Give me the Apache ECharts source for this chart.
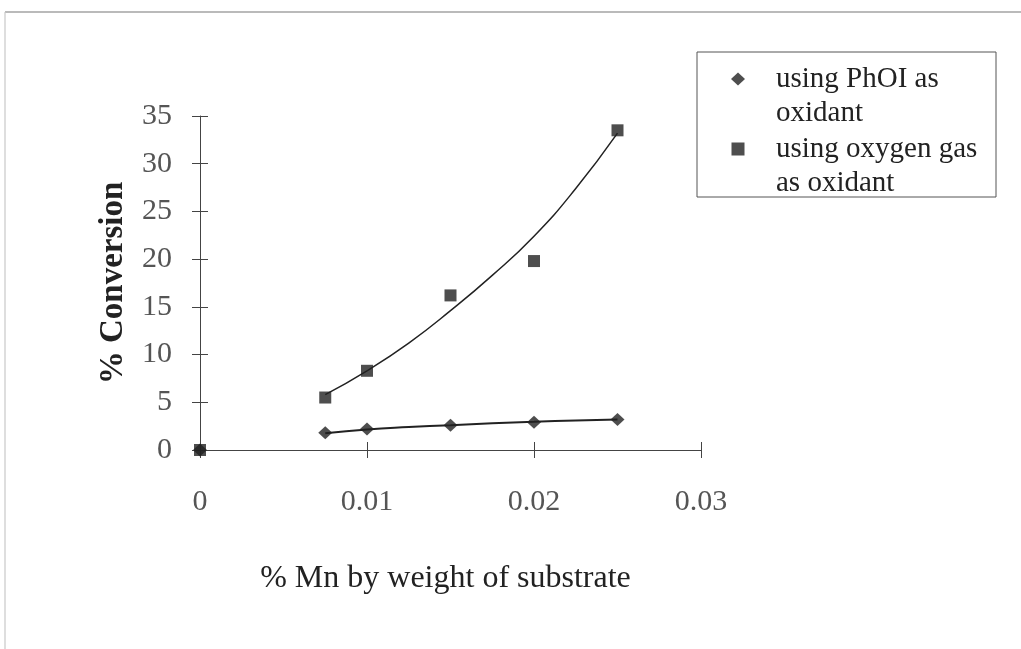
<!DOCTYPE html>
<html>
<head>
<meta charset="utf-8">
<script src="https://cdn.jsdelivr.net/npm/echarts@6/dist/echarts.min.js"></script>
<style>
  html, body { margin: 0; padding: 0; background: #fff; }
  #chart { width: 1021px; height: 649px; }
</style>
</head>
<body>
<div id="chart"></div>
<script>
// % Mn by weight of substrate
const mnPct = [0, 0.0075, 0.01, 0.015, 0.02, 0.025];
// % conversion measured for each oxidant
const phoiConv = [0, 1.8, 2.2, 2.6, 2.9, 3.2];
const oxygenConv = [0, 5.5, 8.3, 16.2, 19.8, 33.5];

// trend curves drawn through each data set
const trendX = [0.0075, 0.01, 0.0125, 0.015, 0.0175, 0.02, 0.0225, 0.025];
const phoiTrend = [1.75, 2.15, 2.4, 2.6, 2.8, 2.95, 3.1, 3.2];
const oxygenTrend = [5.8, 8.3, 11.2, 14.6, 18.3, 22.4, 27.4, 33.2];

const seriesNames = ['using PhOI as oxidant', 'using oxygen gas as oxidant'];
const legendLines = {
  'using PhOI as oxidant': 'using PhOI as\noxidant',
  'using oxygen gas as oxidant': 'using oxygen gas\nas oxidant'
};

const xTicks = { min: 0, max: 0.03, interval: 0.01 };
const yTicks = { min: 0, max: 35, interval: 5 };

const pairs = (xs, ys) => xs.map((x, i) => [x, ys[i]]);

const ink = '#222';
const serif = 'Liberation Serif';

// Legend icons: the glyph sits beside the first of two text lines.
// The leading moves set the icon box (40 x 68) so the glyph lands at the top.
const iconBox = 'M0,0 M40,68 ';
const diamondIcon = 'path://' + iconBox + 'M0,17 L7,10.5 L14,17 L7,23.5 Z';
const squareIcon = 'path://' + iconBox + 'M0.5,10.5 L13.5,10.5 L13.5,23.5 L0.5,23.5 Z';

const legendText = {
  fontFamily: serif,
  fontSize: 29,
  lineHeight: 34,
  color: ink
};

const chart = echarts.init(document.getElementById('chart'));
chart.setOption({
  animation: false,
  backgroundColor: '#fff',
  grid: { left: 200, top: 116, right: 320, bottom: 199, containLabel: false },
  xAxis: [
    {
      type: 'value',
      min: xTicks.min, max: xTicks.max, interval: xTicks.interval,
      name: '% Mn by weight of substrate',
      nameLocation: 'middle',
      nameGap: 113,
      nameTextStyle: { fontFamily: serif, fontSize: 32, color: ink, padding: [0, 10, 0, 0] },
      axisLine: { show: true, onZero: false, lineStyle: { color: '#444', width: 1 } },
      axisTick: { show: true, inside: false, length: 8, lineStyle: { color: '#444' } },
      axisLabel: {
        margin: 37, fontFamily: serif, fontSize: 30, color: '#555',
        formatter: v => (v === 0 ? '0' : String(+v.toFixed(3)))
      },
      splitLine: { show: false }
    },
    {
      type: 'value', position: 'bottom',
      min: xTicks.min, max: xTicks.max, interval: xTicks.interval,
      axisLine: { show: false },
      axisTick: { show: true, inside: true, length: 8, lineStyle: { color: '#444' } },
      axisLabel: { show: false },
      splitLine: { show: false }
    }
  ],
  yAxis: [
    {
      type: 'value',
      min: yTicks.min, max: yTicks.max, interval: yTicks.interval,
      name: '% Conversion',
      nameLocation: 'middle',
      nameGap: 70,
      nameTextStyle: { fontFamily: serif, fontSize: 33, fontWeight: 'bold', color: ink },
      axisLine: { show: true, onZero: false, lineStyle: { color: '#444', width: 1 } },
      axisTick: { show: true, inside: false, length: 8, lineStyle: { color: '#444' } },
      axisLabel: { margin: 28, fontFamily: serif, fontSize: 30, color: '#555' },
      splitLine: { show: false }
    },
    {
      type: 'value', position: 'left',
      min: yTicks.min, max: yTicks.max, interval: yTicks.interval,
      axisLine: { show: false },
      axisTick: { show: true, inside: true, length: 8, lineStyle: { color: '#444' } },
      axisLabel: { show: false },
      splitLine: { show: false }
    }
  ],
  legend: [
    {
      data: [{ name: seriesNames[0], icon: diamondIcon }],
      left: 731, top: 62, padding: 0,
      itemWidth: 40, itemHeight: 68, itemGap: 0,
      formatter: n => legendLines[n],
      textStyle: legendText
    },
    {
      data: [{ name: seriesNames[1], icon: squareIcon }],
      left: 731, top: 132, padding: 0,
      itemWidth: 40, itemHeight: 68, itemGap: 0,
      formatter: n => legendLines[n],
      textStyle: legendText
    }
  ],
  graphic: [
    { type: 'line', shape: { x1: 5, y1: 12, x2: 1021, y2: 12 }, style: { stroke: '#777', lineWidth: 1.2 } },
    { type: 'line', shape: { x1: 5, y1: 12, x2: 5, y2: 649 }, style: { stroke: '#c8c8c8', lineWidth: 1.2 } },
    { type: 'rect', shape: { x: 697, y: 52, width: 299, height: 145 }, style: { fill: 'none', stroke: '#555', lineWidth: 1 }, z: -1 }
  ],
  series: [
    {
      name: seriesNames[0] + ' trend', type: 'line', smooth: true,
      data: pairs(trendX, phoiTrend), showSymbol: false, symbol: 'none',
      lineStyle: { color: ink, width: 2 }, z: 2
    },
    {
      name: seriesNames[1] + ' trend', type: 'line', smooth: true,
      data: pairs(trendX, oxygenTrend), showSymbol: false, symbol: 'none',
      lineStyle: { color: ink, width: 1.5 }, z: 2
    },
    {
      name: seriesNames[0], type: 'scatter', symbol: 'diamond', symbolSize: [14, 13],
      data: pairs(mnPct, phoiConv), itemStyle: { color: ink }, z: 3
    },
    {
      name: seriesNames[1], type: 'scatter', symbol: 'rect', symbolSize: 12,
      data: pairs(mnPct, oxygenConv), itemStyle: { color: ink }, z: 4
    }
  ]
});
</script>
</body>
</html>
